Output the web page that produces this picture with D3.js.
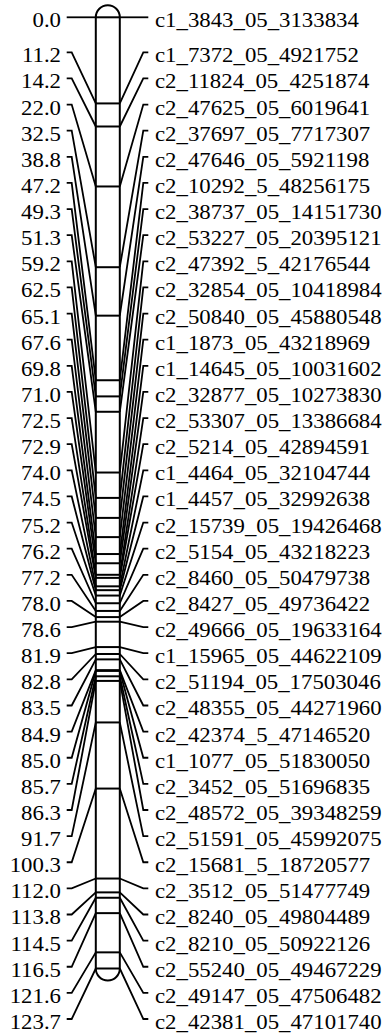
<!DOCTYPE html>
<html>
<head>
<meta charset="utf-8">
<script src="https://cdn.jsdelivr.net/npm/d3@7"></script>
<style>
  html, body { margin: 0; padding: 0; background: #fff; }
  svg { display: block; }
  text { font-family: "Liberation Serif", "Times New Roman", serif; fill: #000; }
</style>
</head>
<body>
<script>
// linkage group data (cM positions and marker names)
const positions = [0.0, 11.2, 14.2, 22.0, 32.5, 38.8, 47.2, 49.3, 51.3, 59.2,
                   62.5, 65.1, 67.6, 69.8, 71.0, 72.5, 72.9, 74.0, 74.5, 75.2,
                   76.2, 77.2, 78.0, 78.6, 81.9, 82.8, 83.5, 84.9, 85.0, 85.7,
                   86.3, 91.7, 100.3, 112.0, 113.8, 114.5, 116.5, 121.6, 123.7];

const markers = ["c1_3843_05_3133834", "c1_7372_05_4921752", "c2_11824_05_4251874",
                 "c2_47625_05_6019641", "c2_37697_05_7717307", "c2_47646_05_5921198",
                 "c2_10292_5_48256175", "c2_38737_05_14151730", "c2_53227_05_20395121",
                 "c2_47392_5_42176544", "c2_32854_05_10418984", "c2_50840_05_45880548",
                 "c1_1873_05_43218969", "c1_14645_05_10031602", "c2_32877_05_10273830",
                 "c2_53307_05_13386684", "c2_5214_05_42894591", "c1_4464_05_32104744",
                 "c1_4457_05_32992638", "c2_15739_05_19426468", "c2_5154_05_43218223",
                 "c2_8460_05_50479738", "c2_8427_05_49736422", "c2_49666_05_19633164",
                 "c1_15965_05_44622109", "c2_51194_05_17503046", "c2_48355_05_44271960",
                 "c2_42374_5_47146520", "c1_1077_05_51830050", "c2_3452_05_51696835",
                 "c2_48572_05_39348259", "c2_51591_05_45992075", "c2_15681_5_18720577",
                 "c2_3512_05_51477749", "c2_8240_05_49804489", "c2_8210_05_50922126",
                 "c2_55240_05_49467229", "c2_49147_05_47506482", "c2_42381_05_47101740"];

const width = 386;
const height = 1036;

const svg = d3.select("body")
              .append("svg")
              .attr("width", width)
              .attr("height", height);

// chromosome geometry
const chrLeft = 95.8;
const chrRight = 119.8;
const chrRadius = (chrRight - chrLeft) / 2;

const y = d3.scaleLinear()
            .domain([0, d3.max(positions)])
            .range([17.3, 968.5]);

// label slots: first label sits on its marker, the rest are spread evenly
const slot = d3.scaleLinear()
               .domain([1, positions.length - 1])
               .range([52.3, 1019]);

const labelY = (d, i) => i === 0 ? y(d) : slot(i);

const data = positions.map((p, i) => ({ pos: p, name: markers[i], ly: labelY(p, i) }));

// chromosome outline with round caps
const yTop = y(0), yBot = y(d3.max(positions));
const outline = d3.path();
outline.moveTo(chrLeft, yBot);
outline.lineTo(chrLeft, yTop);
outline.arc((chrLeft + chrRight) / 2, yTop, chrRadius, Math.PI, 0);
outline.lineTo(chrRight, yBot);
outline.arc((chrLeft + chrRight) / 2, yBot, chrRadius, 0, Math.PI);

svg.append("path")
   .attr("d", outline.toString())
   .attr("fill", "none")
   .attr("stroke", "#000")
   .attr("stroke-width", 2);

// marker lines across the chromosome
svg.append("g")
   .selectAll("line")
   .data(data)
   .enter()
   .append("line")
   .attr("x1", chrLeft)
   .attr("x2", chrRight)
   .attr("y1", d => y(d.pos))
   .attr("y2", d => y(d.pos))
   .attr("stroke", "#000")
   .attr("stroke-width", 2);

// connectors
const leftTick = [66.7, 71.7];
const rightTick = [143.3, 148.3];

svg.append("g")
   .selectAll("path")
   .data(data)
   .enter()
   .append("path")
   .attr("d", d => `M${leftTick[0]},${d.ly}L${leftTick[1]},${d.ly}L${chrLeft},${y(d.pos)}`)
   .attr("fill", "none")
   .attr("stroke", "#000")
   .attr("stroke-width", 1.8);

svg.append("g")
   .selectAll("path")
   .data(data)
   .enter()
   .append("path")
   .attr("d", d => `M${chrRight},${y(d.pos)}L${rightTick[0]},${d.ly}L${rightTick[1]},${d.ly}`)
   .attr("fill", "none")
   .attr("stroke", "#000")
   .attr("stroke-width", 1.8);

// position labels (left)
svg.append("g")
   .selectAll("text")
   .data(data)
   .enter()
   .append("text")
   .attr("transform", d => `translate(61,${d.ly + 10}) scale(1.14,1)`)
   .attr("text-anchor", "end")
   .attr("font-size", 20)
   .text(d => d.pos.toFixed(1));

// marker labels (right)
svg.append("g")
   .selectAll("text")
   .data(data)
   .enter()
   .append("text")
   .attr("transform", d => `translate(155,${d.ly + 10}) scale(1.14,1)`)
   .attr("text-anchor", "start")
   .attr("font-size", 20)
   .text(d => d.name);
</script>
</body>
</html>
